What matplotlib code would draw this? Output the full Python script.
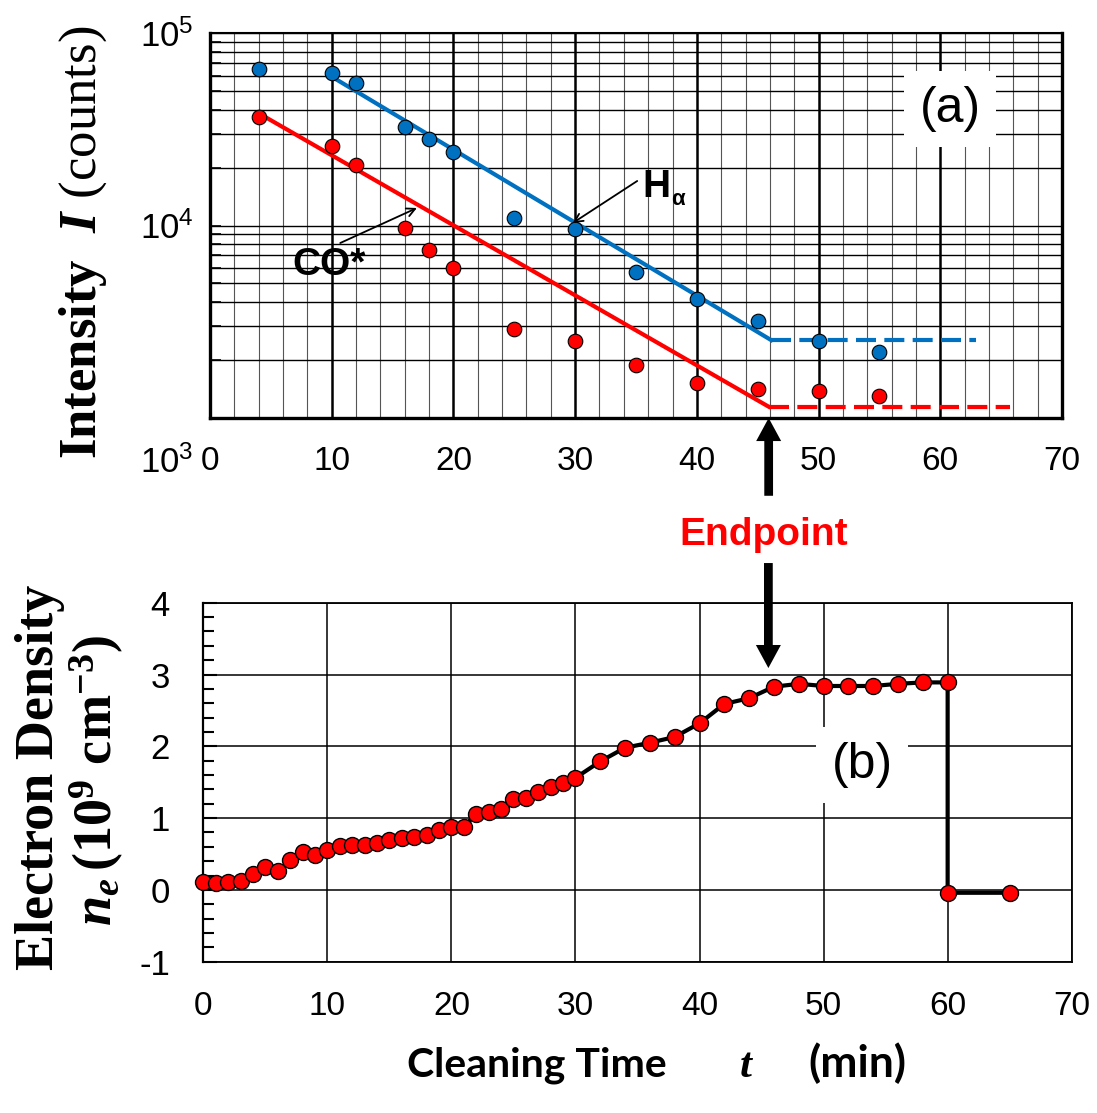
import numpy as np
import matplotlib
matplotlib.use("Agg")
import matplotlib.pyplot as plt

# ---- data ----
# (a) emission intensities
int_time = [4, 10, 12, 16, 18, 20, 25, 30, 35, 40, 45, 50, 55]
h_alpha = [64800, 61800, 55200, 32600, 28000, 24000, 11000, 9550, 5710, 4170, 3190, 2510, 2210]
co_star = [36500, 25900, 20600, 9670, 7460, 6020, 2910, 2500, 1890, 1515, 1410, 1385, 1300]

# fitted decay lines and the flat level after the endpoint
h_fit_t = [10, 46.1]
h_fit_v = [59300, 2540]
h_flat_t = [46.1, 62.9]
h_flat_v = [2540, 2540]
co_fit_t = [4, 45.9]
co_fit_v = [38300, 1145]
co_flat_t = [45.9, 65.7]
co_flat_v = [1145, 1145]

# (b) electron density
ne_time = list(range(0, 31)) + list(range(32, 61, 2)) + [60, 65]
ne_val = [0.11, 0.09, 0.11, 0.13, 0.22, 0.32, 0.26, 0.42, 0.53, 0.49,
          0.55, 0.61, 0.62, 0.62, 0.66, 0.69, 0.72, 0.74, 0.77, 0.83,
          0.88, 0.88, 1.06, 1.09, 1.12, 1.27, 1.28, 1.37, 1.43, 1.49,
          1.56,
          1.79, 1.98, 2.05, 2.13, 2.32, 2.59, 2.67, 2.83, 2.87, 2.84,
          2.84, 2.84, 2.87, 2.89, 2.89,
          -0.04, -0.04]

endpoint = 45.9

plt.rcParams['font.family'] = ['Liberation Sans', 'DejaVu Sans']
plt.rcParams['axes.unicode_minus'] = False
plt.rcParams['mathtext.fontset'] = 'custom'
plt.rcParams['mathtext.rm'] = 'Liberation Serif'
plt.rcParams['mathtext.it'] = 'Liberation Serif:italic:bold'
plt.rcParams['mathtext.bf'] = 'Liberation Serif:bold'

W, H = 1097, 1113
fig = plt.figure(figsize=(W / 100, H / 100), dpi=100)

blue = '#0070C0'
red = '#FF0000'

# ---------- (a) ----------
ax1 = fig.add_axes([210 / W, 1 - 418 / H, 852 / W, 385 / H])
ax1.set_yscale('log')
ax1.set_xlim(0, 70)
ax1.set_ylim(1e3, 1e5)
ax1.set_xticks(range(0, 71, 10))
ax1.set_xticks(np.arange(0, 71, 2), minor=True)
ax1.set_yticks([1e3, 1e4, 1e5], labels=['', r'$\mathdefault{10^{4}}$', r'$\mathdefault{10^{5}}$'])
ax1.grid(which='major', axis='x', color='black', lw=1.8)
ax1.grid(which='minor', axis='x', color='#555555', lw=0.8)
ax1.grid(which='both', axis='y', color='black', lw=1.0)
ax1.tick_params(axis='x', which='both', length=0, labelsize=24, pad=20)
ax1.tick_params(axis='y', which='both', direction='in', length=8, width=1.2, labelsize=25, pad=12)
for s in ax1.spines.values():
    s.set_linewidth(2.4)
ax1.spines['top'].set_linewidth(1.5)

ax1.annotate(r'$\mathdefault{10^{3}}$', xy=(0, 1e3), xycoords=('axes fraction', 'data'),
             xytext=(-12, -32), textcoords='offset points', ha='right', va='center',
             fontsize=25, annotation_clip=False)

ax1.plot(h_fit_t, h_fit_v, color=blue, lw=3, zorder=3)
ax1.plot(h_flat_t, h_flat_v, color=blue, lw=3, ls=(0, (4.8, 2.0)), zorder=3)
ax1.plot(co_fit_t, co_fit_v, color=red, lw=3, zorder=3)
ax1.plot(co_flat_t, co_flat_v, color=red, lw=3, ls=(0, (4.8, 2.0)), zorder=3)
ax1.plot(int_time, h_alpha, 'o', color=blue, mec='black', mew=0.8, ms=10.5, zorder=4)
ax1.plot(int_time, co_star, 'o', color=red, mec='black', mew=0.8, ms=10.5, zorder=4)

ax1.annotate('', xy=(17.0, 12330), xytext=(10.7, 8110),
             arrowprops=dict(arrowstyle='->,head_length=0.6,head_width=0.3', color='black', lw=1.3,
                             shrinkA=0, shrinkB=0), zorder=5)
ax1.text(6.8, 5530, 'CO*', fontsize=28, fontweight='bold', ha='left', va='baseline', zorder=5)
ax1.annotate('', xy=(29.8, 10300), xytext=(35.1, 17030),
             arrowprops=dict(arrowstyle='->,head_length=0.6,head_width=0.3', color='black', lw=1.3,
                             shrinkA=0, shrinkB=0), zorder=5)
ax1.text(35.5, 14060, 'H', fontsize=28, fontweight='bold', ha='left', va='baseline', zorder=5)
ax1.text(37.9, 12780, 'α', fontsize=16, fontweight='bold', ha='left', va='baseline', zorder=5)

ax1.text(60.8, 40500, '(a)', fontsize=36, ha='center', va='center', zorder=6,
         bbox=dict(facecolor='white', edgecolor='none', boxstyle='square,pad=0.3'))

ax1.set_ylabel(r'$\mathbf{Intensity}\ \ \mathit{I}\ \mathrm{(counts)}$', fontsize=38)
ax1.yaxis.set_label_coords(-0.118, 0.457)

# ---------- (b) ----------
ax2 = fig.add_axes([203.3 / W, 1 - 961.7 / H, 868.4 / W, 359 / H])
ax2.set_xlim(0, 70)
ax2.set_ylim(-1, 4)
ax2.set_xticks(range(0, 71, 10))
ax2.set_yticks(range(-1, 5))
ax2.set_yticks(np.arange(-1, 4.01, 0.2), minor=True)
ax2.grid(which='major', color='black', lw=1.1)
ax2.tick_params(axis='x', length=0, labelsize=24, pad=21)
ax2.tick_params(axis='y', which='major', direction='in', length=10, width=1.5, labelsize=25, pad=24)
ax2.tick_params(axis='y', which='minor', direction='in', length=8, width=1.5)
for s in ax2.spines.values():
    s.set_linewidth(1.3)
ax2.spines['left'].set_linewidth(1.6)

ax2.plot(ne_time, ne_val, '-o', color='black', lw=3, mfc=red, mec='black', mew=1.0, ms=11.5,
         zorder=4, clip_on=False)

ax2.text(53.1, 1.74, '(b)', fontsize=36, ha='center', va='center', zorder=6,
         bbox=dict(facecolor='white', edgecolor='none', boxstyle='square,pad=0.3'))

# ---------- endpoint arrows ----------
arrow_style = 'simple,head_length=16.6,head_width=18,tail_width=6.3'
ax1.annotate('', xy=(endpoint, 1e3), xytext=(0, -56), textcoords='offset points',
             annotation_clip=False,
             arrowprops=dict(arrowstyle=arrow_style, mutation_scale=1, color='black', lw=0,
                             shrinkA=0, shrinkB=0))
ax2.annotate('', xy=(45.55, 3.09), xytext=(0, 75.6), textcoords='offset points',
             annotation_clip=False,
             arrowprops=dict(arrowstyle=arrow_style, mutation_scale=1, color='black', lw=0,
                             shrinkA=0, shrinkB=0))
fig.text(764 / W, 1 - 545 / H, 'Endpoint', color=red, fontsize=28, fontweight='bold',
         ha='center', va='baseline')

# ---------- labels ----------
fig.text(53 / W, 1 - 777 / H, 'Electron Density', fontfamily='Liberation Serif', fontweight='bold',
         fontsize=39, rotation=90, rotation_mode='anchor', ha='center', va='baseline')
fig.text(112 / W, 1 - 781 / H, r'$\mathit{n}_{\mathit{e}}\,\mathbf{(10^{9}\ cm^{-3})}$',
         fontsize=39, rotation=90, rotation_mode='anchor', ha='center', va='baseline')

fig.text(407 / W, 1 - 1076.7 / H, 'Cleaning Time', fontfamily='Lato', fontweight='bold',
         fontsize=29.5, ha='left', va='baseline')
fig.text(740 / W, 1 - 1076.7 / H, 't', fontfamily='Liberation Serif', fontweight='bold',
         style='italic', fontsize=31, ha='left', va='baseline')
fig.text(808 / W, 1 - 1076.7 / H, '(min)', fontfamily='Lato', fontweight='bold',
         fontsize=32, ha='left', va='baseline')

fig.savefig('out.png', dpi=100)
